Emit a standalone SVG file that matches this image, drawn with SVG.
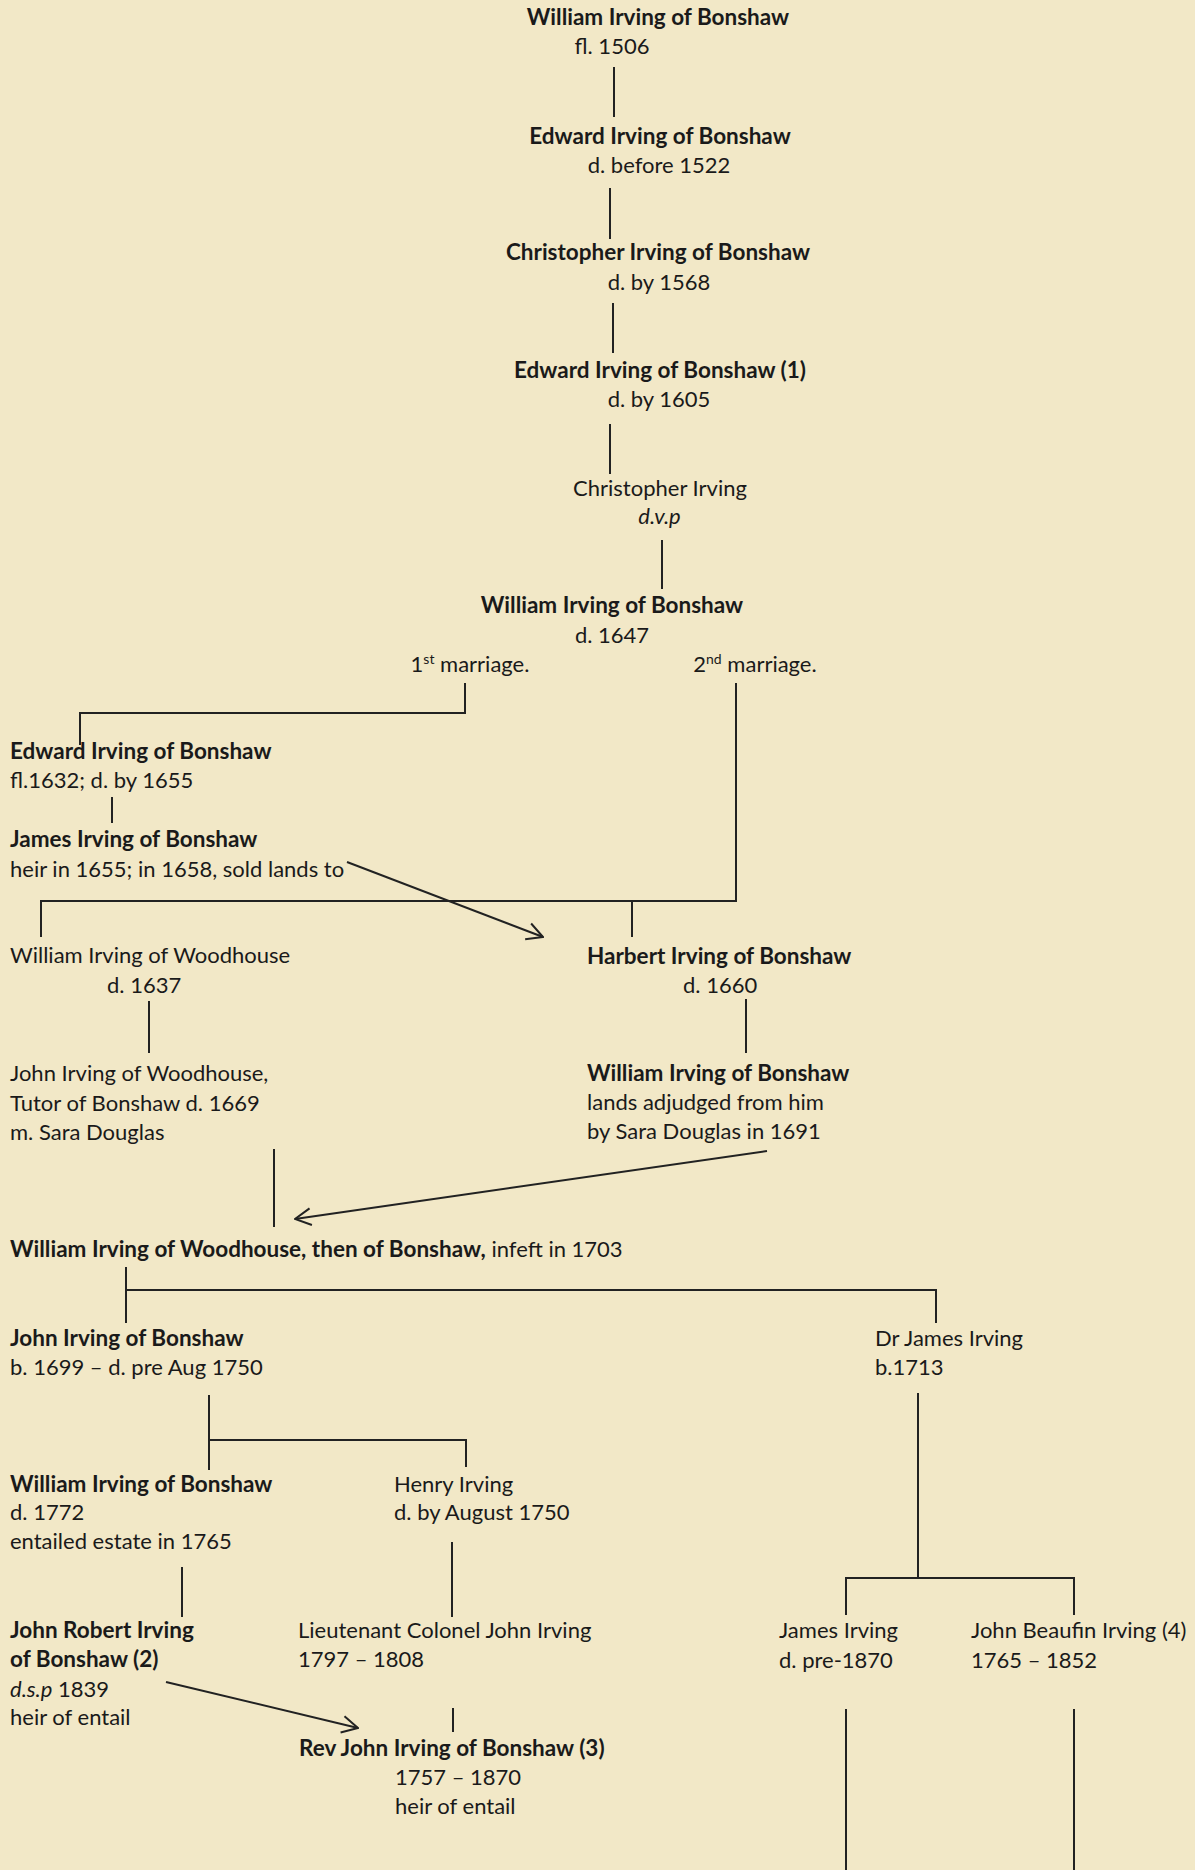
<svg xmlns="http://www.w3.org/2000/svg" width="1195" height="1870" viewBox="0 0 1195 1870">
<defs>
<style>
text{font-family:Lato,"Liberation Sans",sans-serif;font-size:22px;fill:#1a1a1a}
.b{font-weight:bold;font-size:22.5px}
.i{font-style:italic}
.m{text-anchor:middle}
.sup{font-size:14px}
.ln{fill:none;stroke:#222;stroke-width:2}
</style>
<marker id="ah" viewBox="0 0 20 20" refX="19" refY="10" markerWidth="20" markerHeight="20" markerUnits="userSpaceOnUse" orient="auto">
<path d="M3.1,1.6 L19,10 L3.1,18.4" fill="none" stroke="#222" stroke-width="2"/>
</marker>
</defs>
<rect width="1195" height="1870" fill="#F2E8C7"/>
<g id="connectors" class="ln">
<path d="M614,67 V117"/>
<path d="M610,188 V239"/>
<path d="M613,303 V353"/>
<path d="M610,424 V474"/>
<path d="M662,540 V589"/>
<path d="M465,683 V713 H80 V745"/>
<path d="M736,683 V901 H41 V937"/>
<path d="M632,901 V937"/>
<path d="M112,797 V823"/>
<path d="M347,862 L543,937" marker-end="url(#ah)"/>
<path d="M149,1001 V1053"/>
<path d="M746,999 V1053"/>
<path d="M274,1149 V1227"/>
<path d="M767,1151 L295,1219" marker-end="url(#ah)"/>
<path d="M126,1267 V1323"/>
<path d="M126,1290 H936 V1323"/>
<path d="M209,1395 V1470"/>
<path d="M209,1440 H466 V1467"/>
<path d="M918,1393 V1578"/>
<path d="M846,1615 V1578 H1074 V1615"/>
<path d="M182,1567 V1617"/>
<path d="M452,1542 V1617"/>
<path d="M166,1682 L358,1728" marker-end="url(#ah)"/>
<path d="M453,1708 V1732"/>
<path d="M846,1709 V1870"/>
<path d="M1074,1709 V1870"/>
</g>
<g id="n1"><text class="b m" x="658" y="25">William Irving of Bonshaw</text><text class="m" x="612" y="54">fl. 1506</text></g>
<g id="n2"><text class="b m" x="660" y="144">Edward Irving of Bonshaw</text><text class="m" x="659" y="173">d. before 1522</text></g>
<g id="n3"><text class="b m" x="658" y="260">Christopher Irving of Bonshaw</text><text class="m" x="659" y="290">d. by 1568</text></g>
<g id="n4"><text class="b m" x="660" y="378">Edward Irving of Bonshaw (1)</text><text class="m" x="659" y="407">d. by 1605</text></g>
<g id="n5"><text class="m" x="660" y="496">Christopher Irving</text><text class="m i" x="659.5" y="524">d.v.p</text></g>
<g id="n6"><text class="b m" x="612" y="613">William Irving of Bonshaw</text><text class="m" x="612" y="643">d. 1647</text></g>
<g id="labels">
<text class="m" x="470" y="672">1<tspan class="sup" dy="-8">st</tspan><tspan dy="8"> marriage.</tspan></text>
<text class="m" x="755" y="672">2<tspan class="sup" dy="-8">nd</tspan><tspan dy="8"> marriage.</tspan></text>
</g>
<g id="n7"><text class="b" x="10" y="759">Edward Irving of Bonshaw</text><text x="10" y="788">fl.1632; d. by 1655</text></g>
<g id="n8"><text class="b" x="10" y="847">James Irving of Bonshaw</text><text x="10" y="877">heir in 1655; in 1658, sold lands to</text></g>
<g id="n9"><text x="10" y="963">William Irving of Woodhouse</text><text x="107" y="993">d. 1637</text></g>
<g id="n10"><text x="10" y="1081">John Irving of Woodhouse,</text><text x="10" y="1111">Tutor of Bonshaw d. 1669</text><text x="10" y="1140">m. Sara Douglas</text></g>
<g id="n11"><text class="b" x="587" y="964">Harbert Irving of Bonshaw</text><text x="683" y="993">d. 1660</text></g>
<g id="n12"><text class="b" x="587" y="1081">William Irving of Bonshaw</text><text x="587" y="1110">lands adjudged from him</text><text x="587" y="1139">by Sara Douglas in 1691</text></g>
<g id="n13"><text x="10" y="1257"><tspan class="b">William Irving of Woodhouse, then of Bonshaw,</tspan> infeft in 1703</text></g>
<g id="n14"><text class="b" x="10" y="1346">John Irving of Bonshaw</text><text x="10" y="1375">b. 1699 – d. pre Aug 1750</text></g>
<g id="n15"><text x="875" y="1346">Dr James Irving</text><text x="875" y="1375">b.1713</text></g>
<g id="n16"><text class="b" x="10" y="1492">William Irving of Bonshaw</text><text x="10" y="1520">d. 1772</text><text x="10" y="1549">entailed estate in 1765</text></g>
<g id="n17"><text x="394" y="1492">Henry Irving</text><text x="394" y="1520">d. by August 1750</text></g>
<g id="n18"><text class="b" x="10" y="1638">John Robert Irving</text><text class="b" x="10" y="1667">of Bonshaw (2)</text><text x="10" y="1697"><tspan class="i">d.s.p</tspan> 1839</text><text x="10" y="1725">heir of entail</text></g>
<g id="n19"><text x="298" y="1638">Lieutenant Colonel John Irving</text><text x="298" y="1667">1797 – 1808</text></g>
<g id="n20"><text class="b" x="299" y="1756">Rev John Irving of Bonshaw (3)</text><text x="395" y="1785">1757 – 1870</text><text x="395" y="1814">heir of entail</text></g>
<g id="n21"><text x="779" y="1638">James Irving</text><text x="779" y="1668">d. pre-1870</text></g>
<g id="n22"><text x="971" y="1638">John Beaufin Irving (4)</text><text x="971" y="1668">1765 – 1852</text></g>
</svg>
